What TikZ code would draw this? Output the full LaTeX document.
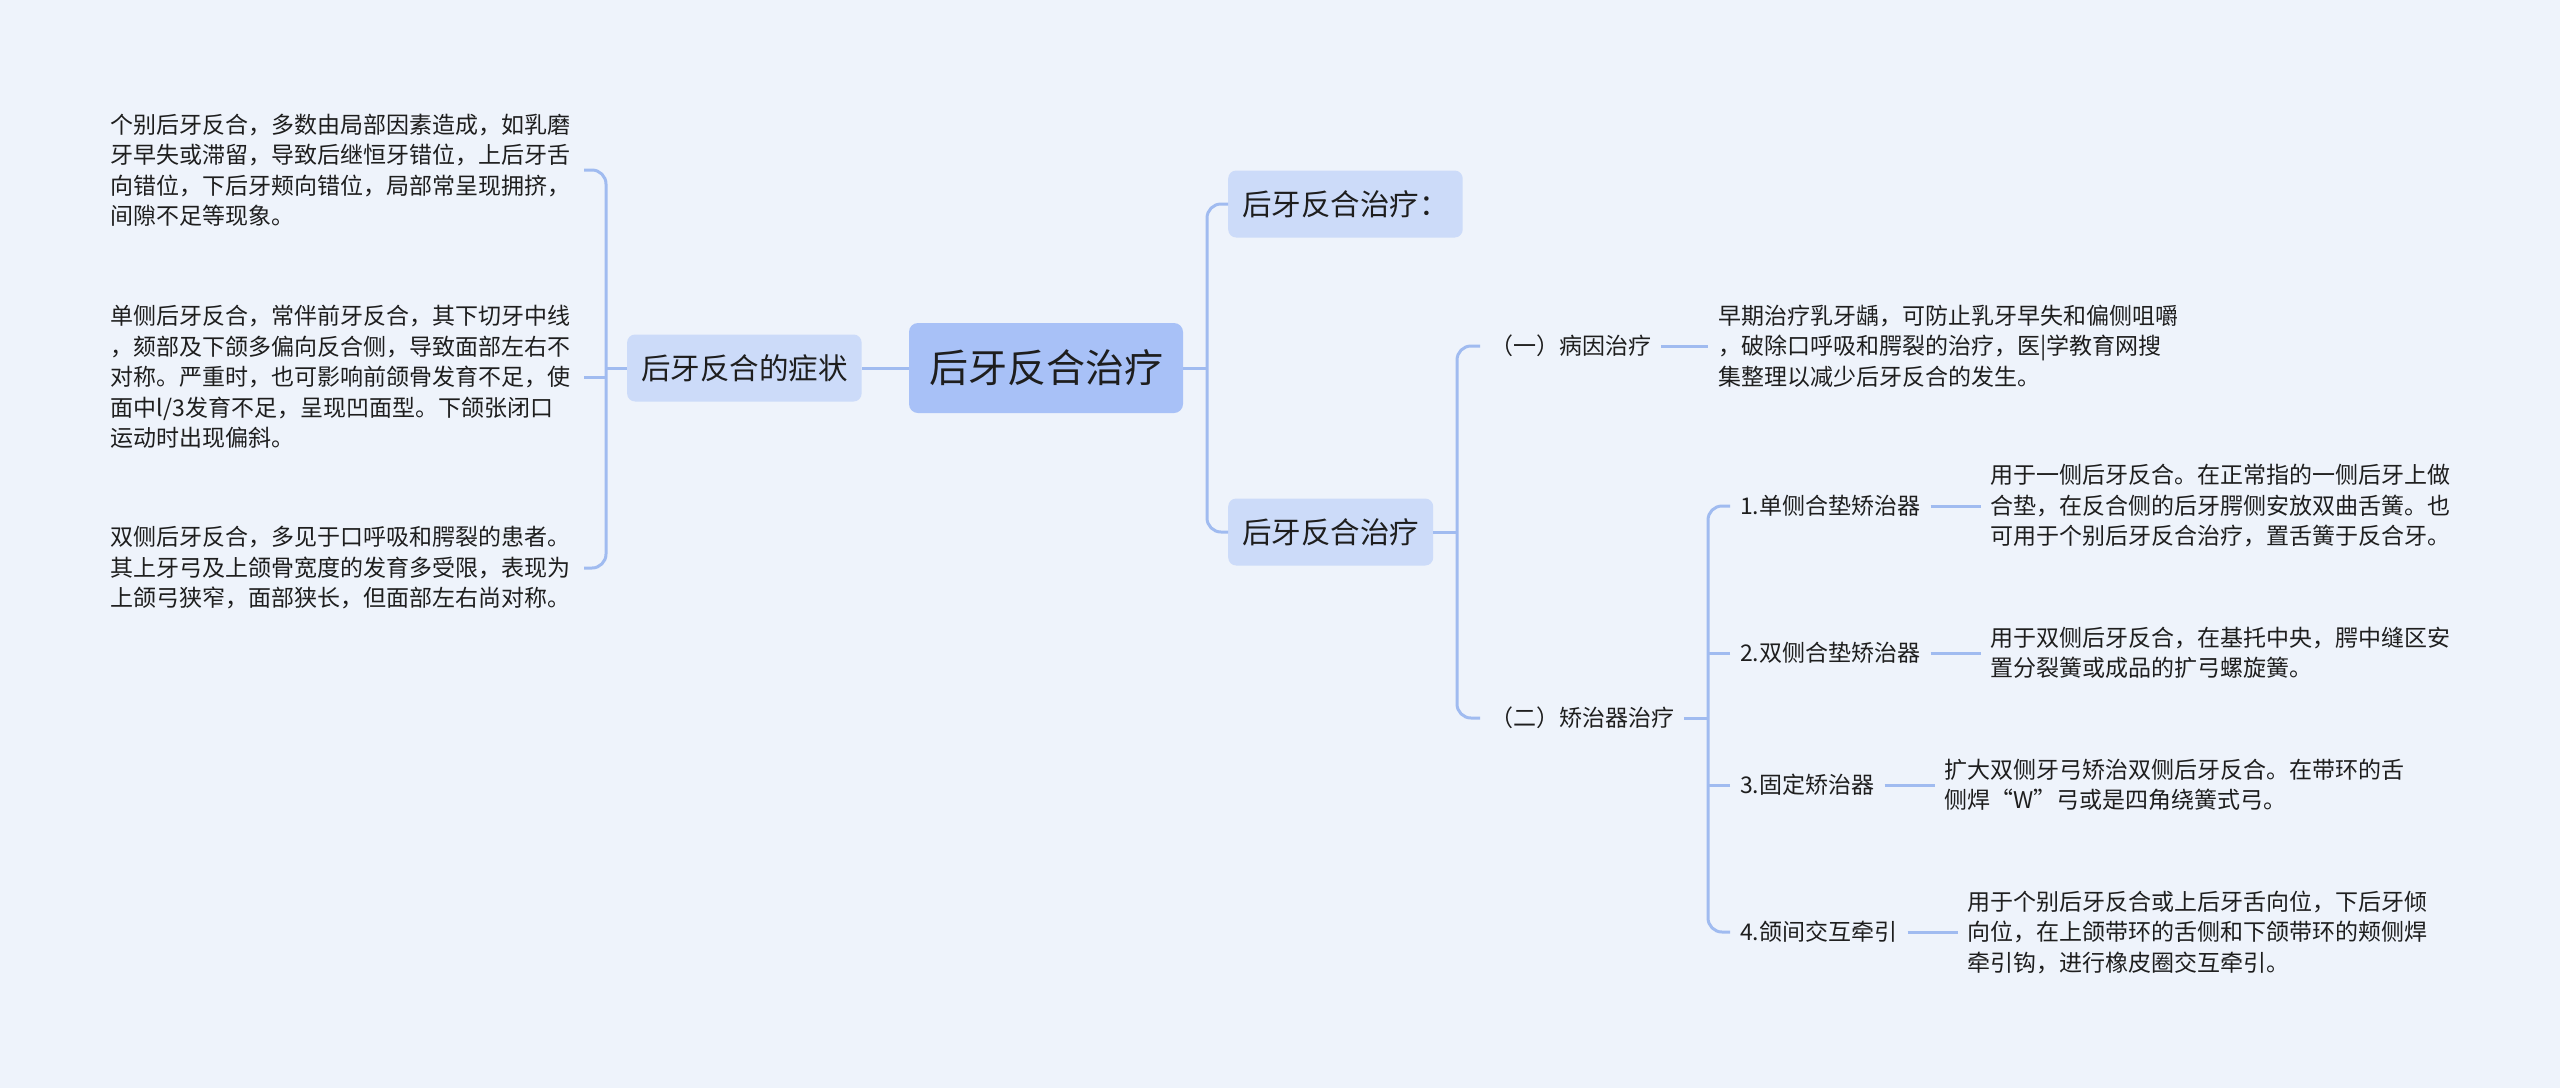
\documentclass[tikz,border=0pt]{standalone}
\usepackage{fontspec}
\newfontfamily\cjk{Noto Sans CJK SC}
\usetikzlibrary{positioning}
\definecolor{bgblue}{RGB}{238,243,251}
\definecolor{lineblue}{RGB}{160,187,240}
\definecolor{rootblue}{RGB}{168,193,247}
\definecolor{subblue}{RGB}{204,219,249}
\definecolor{inkgray}{RGB}{30,30,30}

\begin{document}
\begin{tikzpicture}[x=1pt, y=-1pt]
		\tikzstyle{root}=[rectangle, rounded corners=9pt, fill=rootblue, text=inkgray, font=\cjk\fontsize{39}{44}\selectfont, inner xsep=20pt, minimum height=90pt]
		\tikzstyle{sub}=[rectangle, rounded corners=8pt, fill=subblue, text=inkgray, font=\cjk\fontsize{29.5}{34}\selectfont, inner xsep=14pt, minimum height=67pt]
		\tikzstyle{leaf}=[inner xsep=10pt, inner ysep=4pt, text=inkgray, font=\cjk\fontsize{23}{30.5}\selectfont]
		\tikzstyle{note}=[leaf, align=left]
		\tikzstyle{connect}=[line width=3pt, draw=lineblue]
		\tikzstyle{bracket}=[connect, rounded corners=14pt]

		\fill[bgblue] (0,0) rectangle (2560,1088);
		\useasboundingbox (0,0) rectangle (2560,1088);

		\node[root]                  (c)  at (1046,368) {后牙反合治疗};
		\node[sub]                   (s)  [left=47pt of c] {后牙反合的症状};
		
		\node[note, text width=463pt, anchor=east] (b1) at (584,170) {个别后牙反合，多数由局部因素造成，如乳磨\\牙早失或滞留，导致后继恒牙错位，上后牙舌\\向错位，下后牙颊向错位，局部常呈现拥挤，\\间隙不足等现象。};
		\node[note, text width=463pt, anchor=east] (b2) at (584,377) {单侧后牙反合，常伴前牙反合，其下切牙中线\\，颏部及下颌多偏向反合侧，导致面部左右不\\对称。严重时，也可影响前颌骨发育不足，使\\面中l/3发育不足，呈现凹面型。下颌张闭口\\运动时出现偏斜。};
		\node[note, text width=463pt, anchor=east] (b3) at (584,568) {双侧后牙反合，多见于口呼吸和腭裂的患者。\\其上牙弓及上颌骨宽度的发育多受限，表现为\\上颌弓狭窄，面部狭长，但面部左右尚对称。};
		
		\node[sub, anchor=west]      (t1) at (1228,204) {后牙反合治疗：};
		\node[sub, anchor=west]      (t2) at (1228,532) {后牙反合治疗};
		
		\node[leaf, anchor=west]     (p1) at (1480,346) {（一）病因治疗};
		\node[note]                  (p1n) [right=47pt of p1] {早期治疗乳牙龋，可防止乳牙早失和偏侧咀嚼\\，破除口呼吸和腭裂的治疗，医|学教育网搜\\集整理以减少后牙反合的发生。};
		\node[leaf, anchor=west]     (p2) at (1480,718) {（二）矫治器治疗};
		
		\node[leaf, anchor=west]     (q1) at (1730,506) {1.单侧合垫矫治器};
		\node[note]                  (q1n) [right=50pt of q1] {用于一侧后牙反合。在正常指的一侧后牙上做\\合垫，在反合侧的后牙腭侧安放双曲舌簧。也\\可用于个别后牙反合治疗，置舌簧于反合牙。};
		\node[leaf, anchor=west]     (q2) at (1730,653) {2.双侧合垫矫治器};
		\node[note]                  (q2n) [right=50pt of q2] {用于双侧后牙反合，在基托中央，腭中缝区安\\置分裂簧或成品的扩弓螺旋簧。};
		\node[leaf, anchor=west]     (q3) at (1730,785) {3.固定矫治器};
		\node[note]                  (q3n) [right=50pt of q3] {扩大双侧牙弓矫治双侧后牙反合。在带环的舌\\侧焊“W”弓或是四角绕簧式弓。};
		\node[leaf, anchor=west]     (q4) at (1730,932) {4.颌间交互牵引};
		\node[note]                  (q4n) [right=50pt of q4] {用于个别后牙反合或上后牙舌向位，下后牙倾\\向位，在上颌带环的舌侧和下颌带环的颊侧焊\\牵引钩，进行橡皮圈交互牵引。};
		
		\coordinate (lj) at (606,368);
		\coordinate (rj) at (1207,368);
		\coordinate (tj) at (1457,532);
		\coordinate (qj) at (1708,718);
		
		\draw[bracket] (b1.east) -| (lj) |- (b3.east);
		\draw[bracket] (t1.west) -| (rj) |- (t2.west);
		\draw[bracket] (p1.west) -| (tj) |- (p2.west);
		\draw[bracket] (q1.west) -| (qj) |- (q4.west);
		
		\path 
		(s.west) edge [connect] (lj)
		(b2.east) edge [connect] (b2.east -| lj)
		(c.east) edge [connect] (rj)
		(c.west) edge [connect] (s.east)
		(t2.east) edge [connect] (tj)
		(p2.east) edge [connect] (qj)
		(q2.west) edge [connect] (q2.west -| qj)
		(q3.west) edge [connect] (q3.west -| qj)
		
		(p1.east) edge [connect] (p1n.west)
		(q1.east) edge [connect] (q1n.west)
		(q2.east) edge [connect] (q2n.west)
		(q3.east) edge [connect] (q3n.west)
		(q4.east) edge [connect] (q4n.west)
		;
		
\end{tikzpicture}
\end{document}
